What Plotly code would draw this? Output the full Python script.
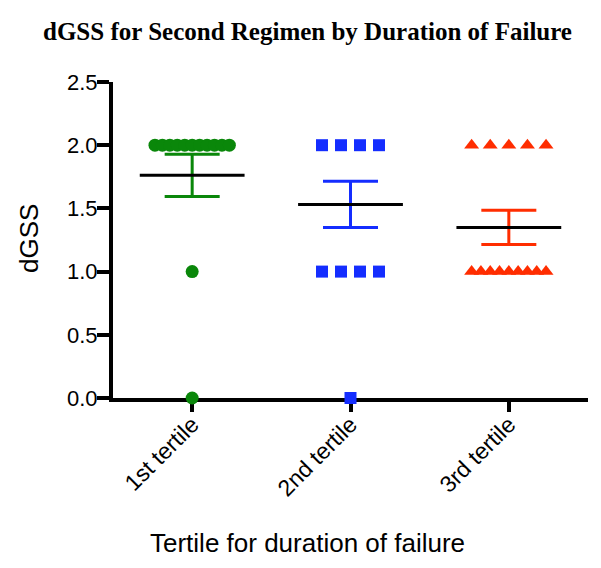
import plotly.graph_objects as go

categories = ["1st tertile", "2nd tertile", "3rd tertile"]
# individual dGSS values per group
values_1st = [2.0] * 11 + [1.0, 0.0]
values_2nd = [2.0] * 4 + [1.0] * 4 + [0.0]
values_3rd = [2.0] * 5 + [1.0] * 9
# mean and SEM
means = [1.763, 1.530, 1.349]
sem_upper = [1.929, 1.714, 1.486]
sem_lower = [1.594, 1.348, 1.215]

colors = ["rgb(10,135,10)", "rgb(20,45,255)", "rgb(255,45,0)"]
symbols = ["circle", "square", "triangle-up"]
groups = [values_1st, values_2nd, values_3rd]

MAX_STEP = 0.12     # data units between neighbouring points
MAX_SPAN = 0.47     # maximum spread of a row


def spread(vals, center):
    out = []
    levels = {}
    for v in vals:
        levels[v] = levels.get(v, 0) + 1
    seen = {}
    for v in vals:
        n = levels[v]
        k = seen.get(v, 0)
        seen[v] = k + 1
        if n == 1:
            out.append(center)
        else:
            step = min(MAX_STEP, MAX_SPAN / (n - 1))
            out.append(center + (k - (n - 1) / 2) * step)
    return out


fig = go.Figure()

for i, vals in enumerate(groups):
    c = i + 1
    fig.add_trace(go.Scatter(
        x=spread(vals, c), y=vals, mode="markers",
        marker=dict(symbol=symbols[i], color=colors[i],
                    size=13 if symbols[i] != "square" else 12,
                    line=dict(width=0)),
        cliponaxis=False, showlegend=False, hoverinfo="y"))

# SEM error bars
for i in range(3):
    c = i + 1
    fig.add_trace(go.Scatter(
        x=[c], y=[means[i]], mode="markers",
        marker=dict(size=1, color="rgba(0,0,0,0)"),
        error_y=dict(type="data", symmetric=False,
                     array=[sem_upper[i] - means[i]],
                     arrayminus=[means[i] - sem_lower[i]],
                     color=colors[i], thickness=3, width=27.5),
        showlegend=False, hoverinfo="skip"))

# mean lines
HALF = 0.331
mx, my = [], []
for i in range(3):
    c = i + 1
    mx += [c - HALF, c + HALF, None]
    my += [means[i], means[i], None]
fig.add_trace(go.Scatter(x=mx, y=my, mode="lines",
                         line=dict(color="black", width=3),
                         showlegend=False, hoverinfo="skip"))

fig.update_layout(
    width=601, height=568,
    margin=dict(l=113, r=13, t=82, b=170),
    paper_bgcolor="white", plot_bgcolor="white",
    font=dict(family="Liberation Sans, Arial, sans-serif", color="black"),
    xaxis=dict(range=[0.5, 3.5], tickvals=[1, 2, 3], ticktext=categories,
               tickangle=-45, tickfont=dict(size=23), ticklabelstandoff=-10,
               showgrid=False, zeroline=False, showline=True,
               linecolor="black", linewidth=4,
               ticks="outside", ticklen=10, tickwidth=4, tickcolor="black",
               layer="below traces", fixedrange=True),
    yaxis=dict(range=[0, 2.5], tickvals=[0, 0.5, 1.0, 1.5, 2.0, 2.5],
               ticktext=["0.0", "0.5", "1.0", "1.5", "2.0", "2.5"],
               tickfont=dict(size=22), ticklabelstandoff=-5,
               showgrid=False, zeroline=False, showline=True,
               linecolor="black", linewidth=4,
               ticks="outside", ticklen=12, tickwidth=4, tickcolor="black",
               layer="below traces", fixedrange=True),
    annotations=[
        dict(text="<b>dGSS for Second Regimen by Duration of Failure</b>",
             xref="paper", yref="paper", x=(307 - 113) / 475, y=1 + (82 - 31) / 316,
             xanchor="center", yanchor="middle", showarrow=False,
             font=dict(family="Liberation Serif, Times New Roman, serif", size=25)),
        dict(text="dGSS", xref="paper", yref="paper",
             x=(29 - 113) / 475, y=(398 - 239) / 316, textangle=-90,
             xanchor="center", yanchor="middle", showarrow=False,
             font=dict(size=26)),
        dict(text="Tertile for duration of failure", xref="paper", yref="paper",
             x=(307.5 - 113) / 475, y=-(543 - 398) / 316,
             xanchor="center", yanchor="middle", showarrow=False,
             font=dict(size=26)),
    ],
)

fig.write_html("out.html", config={"displayModeBar": False},
               post_script="document.body.style.margin='0';")
